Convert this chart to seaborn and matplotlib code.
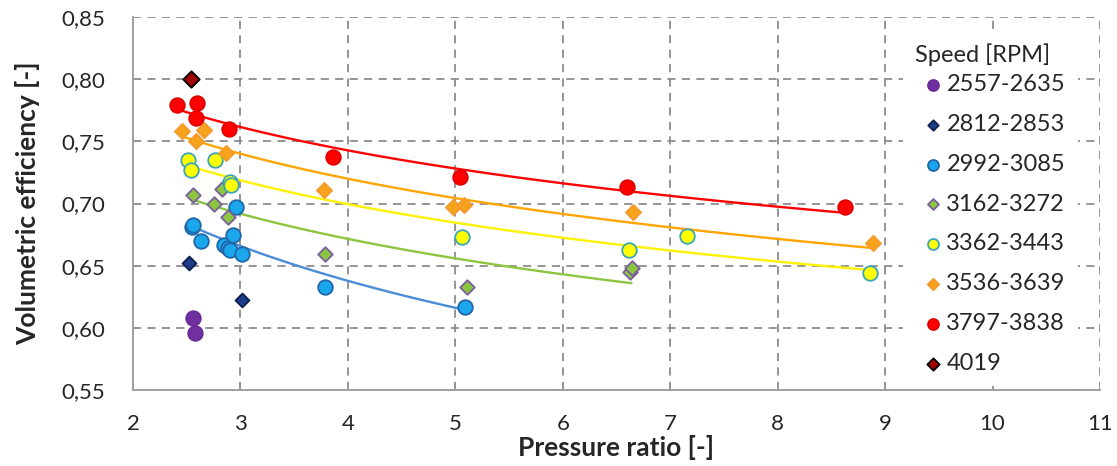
import numpy as np
import matplotlib
matplotlib.use("Agg")
import matplotlib.pyplot as plt
import seaborn as sns

# ---------------- data ----------------
speed_labels = ["2557-2635", "2812-2853", "2992-3085", "3162-3272",
                "3362-3443", "3536-3639", "3797-3838", "4019"]

x_2557 = [2.56, 2.58]
y_2557 = [0.608, 0.596]

x_2812 = [2.52, 3.01]
y_2812 = [0.652, 0.622]

x_2992 = [2.55, 2.56, 2.63, 2.85, 2.88, 2.90, 2.93, 2.96, 3.01, 3.79, 5.09]
y_2992 = [0.681, 0.683, 0.670, 0.667, 0.664, 0.663, 0.675, 0.697, 0.659, 0.633, 0.617]

x_3162 = [2.56, 2.75, 2.83, 2.88, 3.79, 5.11, 6.63, 6.64]
y_3162 = [0.707, 0.700, 0.712, 0.689, 0.659, 0.633, 0.645, 0.648]

x_3362 = [2.51, 2.54, 2.76, 2.90, 2.91, 5.06, 6.62, 7.16, 8.86]
y_3362 = [0.735, 0.727, 0.735, 0.717, 0.715, 0.673, 0.663, 0.674, 0.644]

x_3536 = [2.46, 2.59, 2.66, 2.87, 3.78, 4.98, 5.08, 6.65, 8.89]
y_3536 = [0.758, 0.750, 0.759, 0.741, 0.711, 0.697, 0.699, 0.693, 0.668]

x_3797 = [2.41, 2.59, 2.60, 2.89, 3.86, 5.04, 6.60, 8.63]
y_3797 = [0.779, 0.769, 0.781, 0.760, 0.737, 0.721, 0.713, 0.697]

x_4019 = [2.54]
y_4019 = [0.800]

x_ticks = [2, 3, 4, 5, 6, 7, 8, 9, 10, 11]
y_ticks = [0.55, 0.60, 0.65, 0.70, 0.75, 0.80, 0.85]
y_tick_labels = ["0,55", "0,60", "0,65", "0,70", "0,75", "0,80", "0,85"]

# ---------------- style ----------------
sns.set_style("white")
plt.rcParams["font.family"] = ["Lato", "DejaVu Sans"]

text_col = "#262626"
axis_col = "#A0A0A0"

fig = plt.figure(figsize=(11.17, 4.66), dpi=100)
ax = fig.add_axes([133 / 1117, 1 - 390 / 466, (1100 - 133) / 1117, 373 / 466])

series = [
    (speed_labels[0], x_2557, y_2557, "o", "#7030A0", "#6A2C99", 110, None),
    (speed_labels[1], x_2812, y_2812, "D", "#1F3C88", "#0F2050", 50, None),
    (speed_labels[2], x_2992, y_2992, "o", "#1AA7EC", "#2066A8", 110, "#4A8CD8"),
    (speed_labels[3], x_3162, y_3162, "D", "#8CC63F", "#7A5E9E", 55, "#8CC63F"),
    (speed_labels[4], x_3362, y_3362, "o", "#FFFF00", "#3AA6B8", 110, "#FFF200"),
    (speed_labels[5], x_3536, y_3536, "D", "#F7A21B", "#F39A2E", 60, "#FFA500"),
    (speed_labels[6], x_3797, y_3797, "o", "#FF0000", "#E00000", 110, "#FF0000"),
    (speed_labels[7], x_4019, y_4019, "D", "#A00000", "#000000", 70, None),
]

# trendlines (logarithmic, like Excel)
for name, xs, ys, m, fc, ec, s, tc in series:
    if tc is not None:
        sns.regplot(x=np.array(xs), y=np.array(ys), logx=True, scatter=False,
                    ci=None, truncate=True, ax=ax,
                    line_kws=dict(color=tc, lw=1.7, zorder=2))

for name, xs, ys, m, fc, ec, s, tc in series:
    sns.scatterplot(x=xs, y=ys, ax=ax, marker=m, s=s, color=fc,
                    edgecolor=ec, linewidth=1.3, label=name, zorder=3)

ax.set_xlim(2, 11)
ax.set_ylim(0.55, 0.85)
ax.set_xticks(x_ticks)
ax.set_xticklabels([str(t) for t in x_ticks])
ax.set_yticks(y_ticks)
ax.set_yticklabels(y_tick_labels)

ax.set_axisbelow(True)
ax.grid(True, color="#8C8C8C", lw=1.3, ls=(0, (4.5, 3.5)))

for sp in ["top", "right"]:
    ax.spines[sp].set_visible(False)
for sp in ["left", "bottom"]:
    ax.spines[sp].set_color(axis_col)
    ax.spines[sp].set_linewidth(1.4)

ax.tick_params(axis="both", direction="inout", length=12, width=1.4,
               color=axis_col, labelsize=16, labelcolor=text_col)
ax.tick_params(axis="y", pad=14)
ax.tick_params(axis="x", pad=11)

ax.set_xlabel("Pressure ratio [-]", fontsize=19, fontweight="bold",
              color=text_col, labelpad=1)
ax.set_ylabel("Volumetric efficiency [-]", fontsize=19, fontweight="bold",
              color=text_col, labelpad=15)

leg = ax.legend(loc="upper left", bbox_to_anchor=(0.796, 0.962),
                title="Speed [RPM]", fontsize=17, title_fontsize=17,
                frameon=True, facecolor="white", edgecolor="none",
                framealpha=1.0, markerscale=0.75, handletextpad=-0.25,
                handlelength=1.6, labelspacing=0.8, borderaxespad=0,
                borderpad=0.5, alignment="left")
leg._legend_box.sep = 6
for t in leg.get_texts():
    t.set_color(text_col)
leg.get_title().set_color(text_col)

fig.savefig("out.png", dpi=100)
